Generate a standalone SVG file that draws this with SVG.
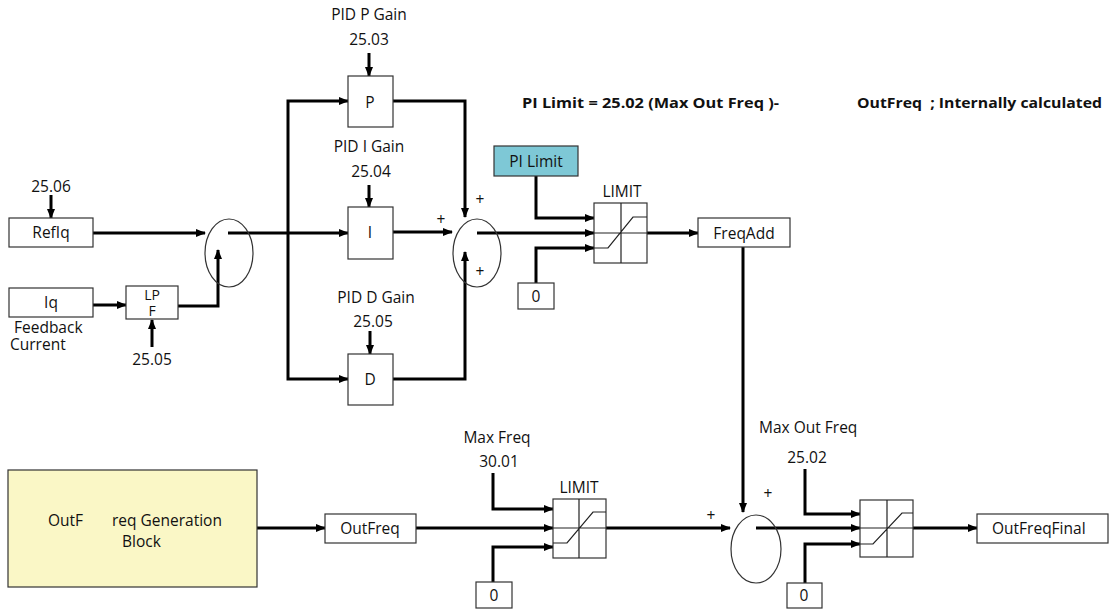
<svg xmlns="http://www.w3.org/2000/svg" width="1110" height="610" viewBox="0 0 1110 610">
<defs>
<style>
.t{font-family:"Open Sans","DejaVu Sans",sans-serif;font-size:15.5px;fill:#111}
.s{font-family:"Open Sans","DejaVu Sans",sans-serif;font-size:14px;fill:#111}
.b{font-family:"Open Sans","DejaVu Sans",sans-serif;font-size:15px;font-weight:bold;fill:#111;white-space:pre}
.box{fill:#fff;stroke:#333;stroke-width:1.2}
.sum{fill:none;stroke:#333;stroke-width:1.2}
.wa{fill:none;stroke:#000;stroke-width:3;marker-end:url(#ah)}
.th{fill:none;stroke:#222;stroke-width:1.2}
</style>
<marker id="ah" markerWidth="10" markerHeight="10" refX="9" refY="5" orient="auto" markerUnits="userSpaceOnUse">
<path d="M0,1 L10,5 L0,9 Z" fill="#000"/>
</marker>
</defs>
<rect width="1110" height="610" fill="#fff"/>

<g id="connectors">
<path class="wa" d="M51,195 V218"/>
<path class="wa" d="M93,233 H205"/>
<path class="wa" d="M93,305 H126"/>
<path class="wa" d="M178,306 H218 V250"/>
<path class="wa" d="M152,347 V320"/>
<path class="wa" d="M228,233 H348"/>
<path class="wa" d="M288,233 V101 H348"/>
<path class="wa" d="M288,233 V379 H348"/>
<path class="wa" d="M369,53 V76"/>
<path class="wa" d="M369,185 V207"/>
<path class="wa" d="M370,331 V354"/>
<path class="wa" d="M393,101 H465 V217"/>
<path class="wa" d="M393,232 H452"/>
<path class="wa" d="M393,379 H465 V252"/>
<path class="wa" d="M477,233 H594"/>
<path class="wa" d="M536,176 V218 H594"/>
<path class="wa" d="M536,283 V248 H594"/>
<path class="wa" d="M647,233 H698"/>
<path class="wa" d="M743,247 V512"/>
<path class="wa" d="M257,528 H325"/>
<path class="wa" d="M416,528 H553"/>
<path class="wa" d="M493,473 V509 H553"/>
<path class="wa" d="M493,582 V547 H553"/>
<path class="wa" d="M606,528 H730"/>
<path class="wa" d="M756,528 H860"/>
<path class="wa" d="M805,469 V514 H860"/>
<path class="wa" d="M805,583 V544 H860"/>
<path class="wa" d="M913,528 H977"/>
</g>

<g id="refiq">
<rect class="box" x="9" y="218" width="84" height="29"/>
<text class="t" x="51" y="238" text-anchor="middle">RefIq</text>
</g>
<g id="p2506"><text class="t" x="51" y="192" text-anchor="middle">25.06</text></g>
<g id="iq">
<rect class="box" x="9" y="288" width="84" height="29"/>
<text class="t" x="51" y="308" text-anchor="middle">Iq</text>
<text class="t" x="14" y="333">Feedback</text>
<text class="t" x="10" y="350">Current</text>
</g>
<g id="lpf">
<rect class="box" x="126" y="286" width="52" height="33"/>
<text class="s" x="152" y="300" text-anchor="middle">LP</text>
<text class="s" x="152" y="316" text-anchor="middle">F</text>
<text class="t" x="152" y="365" text-anchor="middle">25.05</text>
</g>
<g id="sum1"><ellipse class="sum" cx="229" cy="253" rx="24" ry="34"/></g>

<g id="pblock">
<text class="t" x="369" y="20" text-anchor="middle">PID P Gain</text>
<text class="t" x="369" y="45" text-anchor="middle">25.03</text>
<rect class="box" x="348" y="76" width="45" height="51"/>
<text class="t" x="370" y="108" text-anchor="middle">P</text>
</g>
<g id="iblock">
<text class="t" x="369" y="152" text-anchor="middle">PID I Gain</text>
<text class="t" x="371" y="177" text-anchor="middle">25.04</text>
<rect class="box" x="348" y="207" width="45" height="52"/>
<text class="t" x="370" y="238" text-anchor="middle">I</text>
</g>
<g id="dblock">
<text class="t" x="376" y="303" text-anchor="middle">PID D Gain</text>
<text class="t" x="373" y="327" text-anchor="middle">25.05</text>
<rect class="box" x="348" y="354" width="45" height="51"/>
<text class="t" x="370" y="385" text-anchor="middle">D</text>
</g>
<g id="sum2">
<ellipse class="sum" cx="477" cy="253" rx="24" ry="34"/>
<text class="t" x="480" y="205" text-anchor="middle">+</text>
<text class="t" x="441" y="225" text-anchor="middle">+</text>
<text class="t" x="480" y="277" text-anchor="middle">+</text>
</g>

<g id="note">
<text class="b" x="522" y="108" textLength="257" lengthAdjust="spacingAndGlyphs">PI Limit = 25.02 (Max Out Freq )-</text>
<text class="b" x="857" y="108" textLength="245" lengthAdjust="spacingAndGlyphs">OutFreq  ; Internally calculated</text>
</g>

<g id="pilimit">
<rect x="494" y="146" width="84" height="30" fill="#7ec8d6" stroke="#333" stroke-width="1.2"/>
<text class="t" x="536" y="167" text-anchor="middle">PI Limit</text>
</g>
<g id="zero1">
<rect class="box" x="518" y="283" width="36" height="26"/>
<text class="t" x="536" y="302" text-anchor="middle">0</text>
</g>
<g id="limit1">
<text class="t" x="622" y="197" text-anchor="middle">LIMIT</text>
<rect class="box" x="594" y="203" width="53" height="60"/>
<path class="th" d="M621,203 V263 M594,233 H647 M594,248 H608 L633,217 H647"/>
</g>
<g id="freqadd">
<rect class="box" x="698" y="218" width="92" height="29"/>
<text class="t" x="744" y="239" text-anchor="middle">FreqAdd</text>
</g>

<g id="outfreqgen">
<rect x="8" y="470" width="249" height="117" fill="#faf7c6" stroke="#333" stroke-width="1.2"/>
<text class="t" x="48" y="526">OutF</text>
<text class="t" x="112" y="526">req Generation</text>
<text class="t" x="122" y="547">Block</text>
</g>
<g id="outfreq">
<rect class="box" x="325" y="514" width="91" height="29"/>
<text class="t" x="370" y="534" text-anchor="middle">OutFreq</text>
</g>
<g id="maxfreq">
<text class="t" x="497" y="443" text-anchor="middle">Max Freq</text>
<text class="t" x="499" y="467" text-anchor="middle">30.01</text>
</g>
<g id="zero2">
<rect class="box" x="476" y="582" width="36" height="26"/>
<text class="t" x="494" y="601" text-anchor="middle">0</text>
</g>
<g id="limit2">
<text class="t" x="579" y="493" text-anchor="middle">LIMIT</text>
<rect class="box" x="553" y="499" width="53" height="59"/>
<path class="th" d="M579,499 V558 M553,528 H606 M553,543 H567 L593,512 H606"/>
</g>
<g id="sum3">
<ellipse class="sum" cx="756" cy="549" rx="25" ry="34"/>
<text class="t" x="711" y="521" text-anchor="middle">+</text>
<text class="t" x="768" y="499" text-anchor="middle">+</text>
</g>
<g id="maxoutfreq">
<text class="t" x="759" y="433">Max Out Freq</text>
<text class="t" x="807" y="463" text-anchor="middle">25.02</text>
</g>
<g id="zero3">
<rect class="box" x="787" y="583" width="35" height="25"/>
<text class="t" x="804" y="601" text-anchor="middle">0</text>
</g>
<g id="limit3">
<rect class="box" x="860" y="500" width="53" height="57"/>
<path class="th" d="M887,500 V557 M860,528 H913 M860,544 H873 L902,513 H913"/>
</g>
<g id="outfreqfinal">
<rect class="box" x="977" y="514" width="131" height="29"/>
<text class="t" x="992" y="534">OutFreqFinal</text>
</g>
</svg>
